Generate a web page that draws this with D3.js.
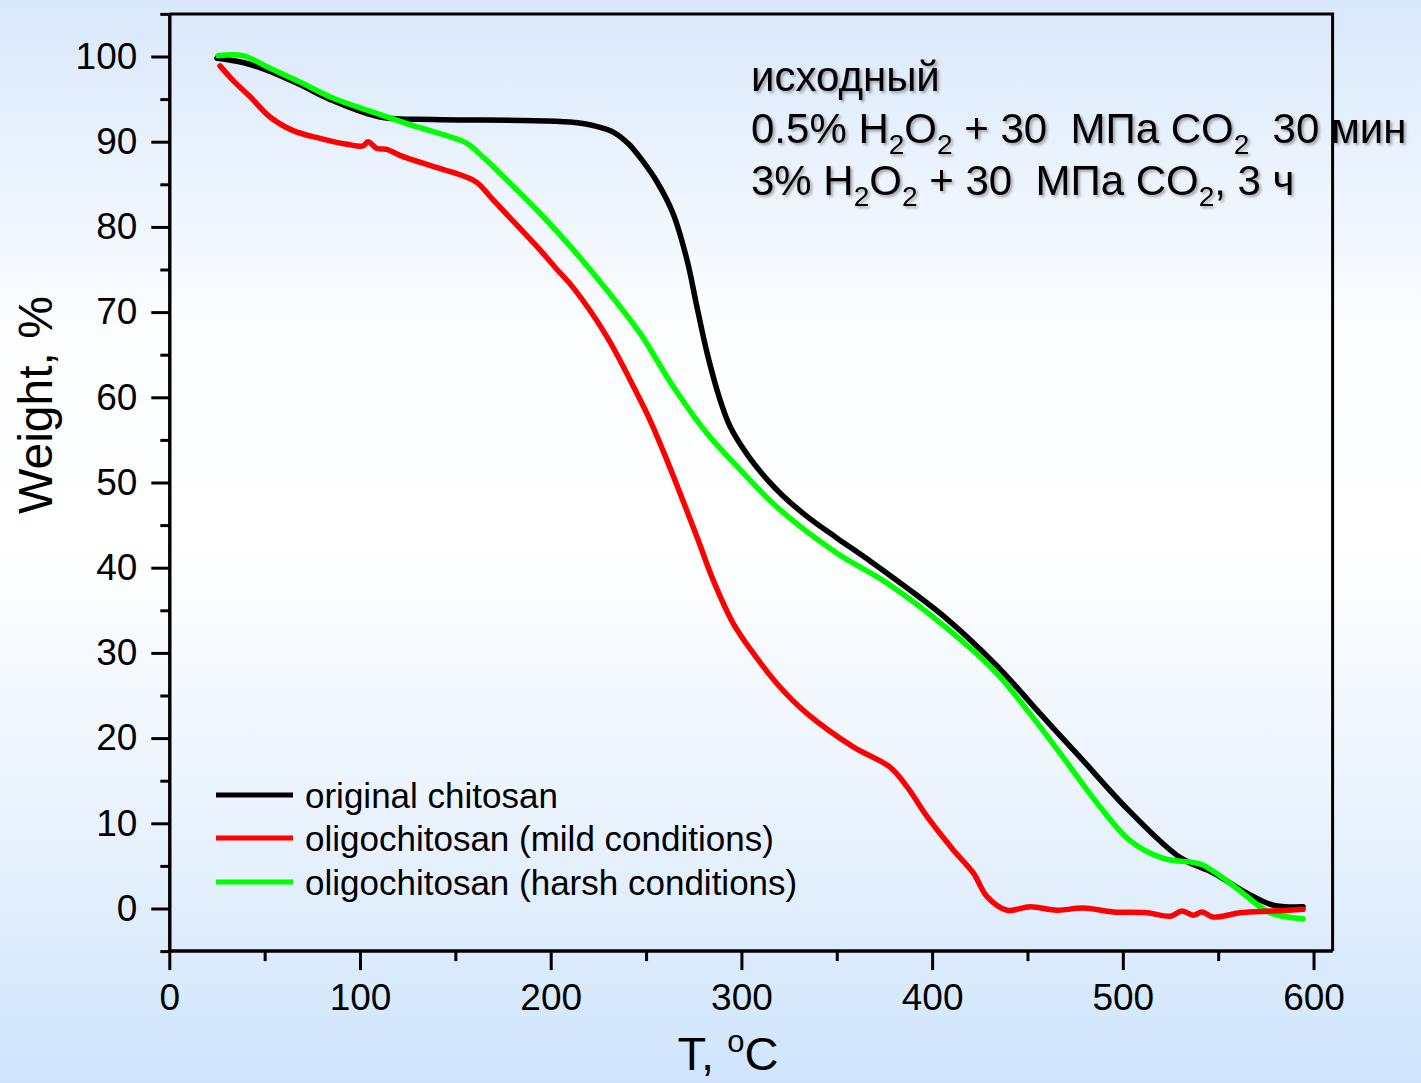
<!DOCTYPE html>
<html><head><meta charset="utf-8">
<script src="https://cdn.jsdelivr.net/npm/d3@7"></script>
<style>
html,body{margin:0;padding:0;background:#fff;}
svg{display:block;font-family:Arial,"Liberation Sans",sans-serif;}
</style>
</head><body>
<svg id="chart" width="1421" height="1083"></svg>
<script>
// ---- data ----
const xTickValues = [0, 100, 200, 300, 400, 500, 600];
const xMinorTicks = [50, 150, 250, 350, 450, 550];
const yTickValues = [0, 10, 20, 30, 40, 50, 60, 70, 80, 90, 100];
const yMinorTicks = [-5, 5, 15, 25, 35, 45, 55, 65, 75, 85, 95, 105];

const seriesNames = ["original chitosan", "oligochitosan (mild conditions)", "oligochitosan (harsh conditions)"];
const seriesColors = ["#000000", "#ff0000", "#00ff00"];

const originalT = [25, 38.6, 51.2, 68.5, 86, 110.5, 138.3, 185.5, 210, 224, 233, 241, 248, 255.7, 264.1, 271.5, 276.7, 282, 288.8, 294, 303, 313.3, 322, 335, 350, 367.4, 387, 407.7, 433.9, 456.5, 477.4, 503.6, 529.9, 547.3, 565.1, 578.7, 594.5];
const originalW = [99.8, 99.3, 98.4, 96.7, 94.8, 92.9, 92.6, 92.5, 92.3, 91.8, 91.1, 89.7, 87.8, 85.3, 81.6, 76.1, 70.6, 65.2, 59.7, 56.6, 53.3, 50.4, 48.4, 45.9, 43.5, 40.8, 37.6, 34.0, 28.5, 22.9, 17.8, 11.4, 6.0, 4.2, 1.8, 0.4, 0.2];

const mildT = [26.6, 33.4, 42.3, 52.8, 64.9, 79, 93.2, 101.6, 104.2, 108.9, 114.1, 120.9, 138.3, 154, 161.4, 169.7, 182.3, 194.4, 203.3, 211.7, 229.5, 246.9, 252.1, 261, 276.7, 285.1, 295.6, 306.1, 320.2, 334.3, 358.4, 377.9, 386.8, 397.3, 411, 421.5, 428.8, 439.3, 451.4, 465.5, 479.2, 494.9, 512.8, 524.9, 531.1, 536.9, 541.6, 547.3, 561.5, 578.7, 594.5];
const mildW = [98.9, 97.2, 95.3, 92.9, 91.3, 90.4, 89.7, 89.5, 90.0, 89.2, 89.1, 88.4, 87.1, 86.0, 85.2, 83.2, 80.2, 77.3, 75.0, 72.9, 67.1, 59.7, 57.3, 52.6, 43.6, 38.6, 33.5, 30.0, 26.0, 22.9, 19.0, 16.6, 14.3, 10.8, 6.9, 4.2, 1.4, -0.2, 0.2, -0.2, 0.05, -0.4, -0.5, -0.9, -0.3, -0.8, -0.4, -1.0, -0.5, -0.3, -0.1];

const harshT = [25.5, 38.6, 51.2, 68.5, 86, 105.2, 127.8, 145.6, 156.1, 164.5, 173.4, 194.4, 211.9, 229.4, 246.9, 264.4, 281.8, 299.3, 320.2, 350.1, 376.3, 407.7, 433.9, 451.2, 468.5, 486.4, 503.6, 520.9, 536.7, 541.9, 556.1, 565.1, 577.2, 594.5];
const harshW = [100.1, 100.1, 98.8, 97.0, 95.1, 93.6, 91.9, 90.7, 89.8, 88.2, 86.3, 81.6, 77.3, 72.6, 67.5, 61.2, 55.8, 51.5, 46.8, 41.7, 38.2, 32.9, 27.6, 22.9, 17.8, 12.4, 8.0, 5.9, 5.4, 5.1, 3.0, 1.4, -0.5, -1.2];

// ---- chart ----
const svg = d3.select("#chart");
const W = 1421, H = 1083;

const defs = svg.append("defs");
const grad = defs.append("linearGradient").attr("id", "bg").attr("x1", 0).attr("y1", 0).attr("x2", 0).attr("y2", 1);
[[0, "#d9e8fb"], [0.3, "#fbfdff"], [0.5, "#ffffff"], [0.75, "#eaf3fd"], [1, "#cfe4fc"]].forEach(s =>
  grad.append("stop").attr("offset", s[0]).attr("stop-color", s[1]));
const shadow = defs.append("filter").attr("id", "shadow").attr("x", "-5%").attr("y", "-20%").attr("width", "115%").attr("height", "150%");
shadow.append("feDropShadow").attr("dx", 2).attr("dy", 2).attr("stdDeviation", 1.5).attr("flood-color", "#000").attr("flood-opacity", 0.35);

svg.append("rect").attr("width", W).attr("height", H).attr("fill", "url(#bg)");

const x = d3.scaleLinear().domain([0, 610]).range([169.3, 1332.6]);
const y = d3.scaleLinear().domain([-5, 105]).range([951.1, 13.9]);

const FONT = "Arial, 'Liberation Sans', sans-serif";

// frame (top and right)
svg.append("path")
  .attr("d", `M${x(0)},${y(105)}H${x(610)}V${y(-5)}`)
  .attr("fill", "none").attr("stroke", "#000").attr("stroke-width", 3);

// x axis
const gx = svg.append("g").attr("transform", `translate(0,${y(-5)})`)
  .call(d3.axisBottom(x).tickValues(xTickValues).tickSize(19).tickPadding(14).tickSizeOuter(0));
gx.append("g").call(d3.axisBottom(x).tickValues(xMinorTicks).tickSize(10).tickFormat("").tickSizeOuter(0));
// y axis
const gy = svg.append("g").attr("transform", `translate(${x(0)},0)`)
  .call(d3.axisLeft(y).tickValues(yTickValues).tickSize(18).tickPadding(14).tickSizeOuter(0));
gy.append("g").call(d3.axisLeft(y).tickValues(yMinorTicks).tickSize(9).tickFormat("").tickSizeOuter(0));

[gx, gy].forEach(g => {
  g.attr("font-family", FONT).attr("font-size", 37);
  g.selectAll("path.domain").attr("stroke", "#000").attr("stroke-width", 3);
  g.selectAll(".tick line").attr("stroke", "#000").attr("stroke-width", 3);
  g.selectAll(".tick text").attr("fill", "#000");
});
gx.selectAll("path.domain").attr("d", `M${x(0)},0H${x(610)}`);

// axis titles
svg.append("text")
  .attr("transform", `translate(52,405) rotate(-90)`)
  .attr("text-anchor", "middle").attr("font-family", FONT).attr("font-size", 48)
  .text("Weight, %");
const xt = svg.append("text").attr("x", 728).attr("y", 1070).attr("text-anchor", "middle")
  .attr("font-family", FONT).attr("font-size", 47);
xt.append("tspan").text("T, ");
xt.append("tspan").attr("font-size", 31).attr("dy", -18).text("o");
xt.append("tspan").attr("dy", 18).text("C");

// series
const series = [
  {T: originalT, W: originalW},
  {T: mildT, W: mildW},
  {T: harshT, W: harshW}
];
const line = d3.line().x(d => x(d[0])).y(d => y(d[1])).curve(d3.curveCatmullRom.alpha(0.5));
const drawOrder = [0, 2, 1];
drawOrder.forEach(i => {
  const pts = series[i].T.map((t, k) => [t, series[i].W[k]]);
  svg.append("path").datum(pts)
    .attr("d", line)
    .attr("fill", "none").attr("stroke", seriesColors[i])
    .attr("stroke-width", 5.5).attr("stroke-linejoin", "round").attr("stroke-linecap", "round");
});

// legend
const legY = [795, 838, 882];
seriesNames.forEach((name, i) => {
  svg.append("line").attr("x1", 216).attr("x2", 293).attr("y1", legY[i]).attr("y2", legY[i])
    .attr("stroke", seriesColors[i]).attr("stroke-width", 5);
  svg.append("text").attr("x", 305).attr("y", legY[i]).attr("dy", "0.36em")
    .attr("font-family", FONT).attr("font-size", 35).text(name);
});

// annotation
const ann = svg.append("g").attr("font-family", FONT).attr("font-size", 42)
  .attr("filter", "url(#shadow)");
ann.append("text").attr("x", 751).attr("y", 91).text("исходный");
function chemLine(yy, parts) {
  const t = ann.append("text").attr("x", 751).attr("y", yy);
  let shifted = false;
  parts.forEach(p => {
    if (p.sub) {
      t.append("tspan").attr("font-size", 28).attr("dy", 11).text(p.sub);
      shifted = true;
    } else {
      const ts = t.append("tspan").text(p.t);
      if (shifted) { ts.attr("dy", -11); shifted = false; }
    }
  });
}
const NB = "\u00a0";
chemLine(143, [{t: "0.5% H"}, {sub: "2"}, {t: "O"}, {sub: "2"}, {t: " + 30 " + NB + "МПа CO"}, {sub: "2"}, {t: " " + NB + "30 мин"}]);
chemLine(195, [{t: "3% H"}, {sub: "2"}, {t: "O"}, {sub: "2"}, {t: " + 30 " + NB + "МПа CO"}, {sub: "2"}, {t: ", 3 ч"}]);
</script>
</body></html>
